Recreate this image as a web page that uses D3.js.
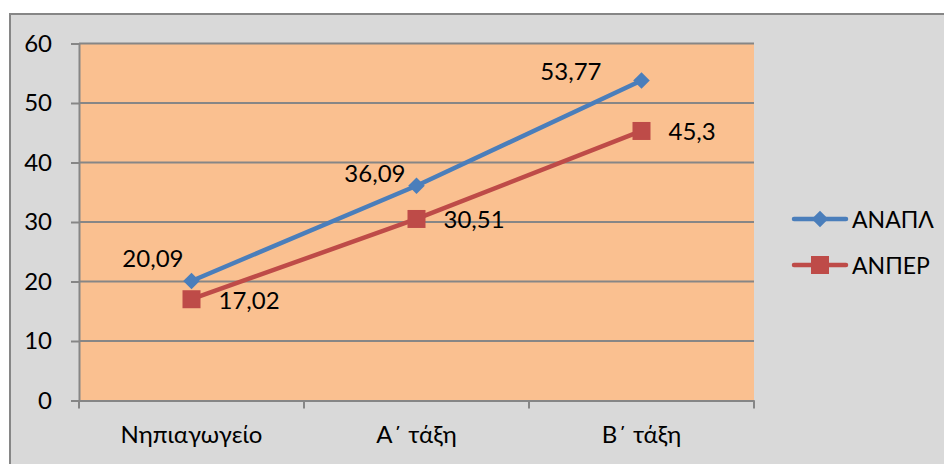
<!DOCTYPE html>
<html>
<head>
<meta charset="utf-8">
<script src="https://cdn.jsdelivr.net/npm/d3@7"></script>
<style>
  html, body { margin: 0; padding: 0; background: #ffffff; }
  svg { display: block; }
  text { font-family: Lato, "Open Sans", sans-serif; fill: #000; }
</style>
</head>
<body>
<svg id="chart" width="944" height="464"></svg>
<script>
// Categories (school grade) and the two series
const categories = ["Νηπιαγωγείο", "Α΄ τάξη", "Β΄ τάξη"];
const seriesNames = ["ΑΝΑΠΛ", "ΑΝΠΕΡ"];
const anaplValues = [20.09, 36.09, 53.77];
const anperValues = [17.02, 30.51, 45.3];
const yTicks = [0, 10, 20, 30, 40, 50, 60];

const colors = { "ΑΝΑΠΛ": "#4a7ebb", "ΑΝΠΕΡ": "#be4b48" };
const FS = "24px";

const svg = d3.select("#chart");
const W = 944, H = 464;
const plot = { left: 79, top: 43.5, right: 754, bottom: 400.5 };

// chart background and frame
svg.append("rect")
  .attr("x", 10).attr("y", 14).attr("width", W - 9).attr("height", H)
  .attr("fill", "#d9d9d9").attr("stroke", "#868686").attr("stroke-width", 2);

const x = d3.scaleBand().domain(categories).range([plot.left, plot.right]).padding(0);
const y = d3.scaleLinear().domain([0, 60]).range([plot.bottom, plot.top]);
const cx = c => x(c) + x.bandwidth() / 2;

// plot area
svg.append("rect")
  .attr("x", plot.left).attr("y", plot.top)
  .attr("width", plot.right - plot.left).attr("height", plot.bottom - plot.top)
  .attr("fill", "#fac090");

// horizontal gridlines
svg.append("g").selectAll("line").data(yTicks.filter(t => t > 0)).join("line")
  .attr("x1", plot.left).attr("x2", plot.right)
  .attr("y1", d => y(d)).attr("y2", d => y(d))
  .attr("stroke", "#868686").attr("stroke-width", 2);

// y axis
const yAxis = svg.append("g")
  .attr("transform", `translate(${plot.left},0)`)
  .call(d3.axisLeft(y).tickValues(yTicks).tickSize(8).tickPadding(19).tickFormat(d3.format("d")));
yAxis.select(".domain").attr("stroke", "#868686").attr("stroke-width", 2);
yAxis.selectAll(".tick line").attr("stroke", "#868686").attr("stroke-width", 2);
yAxis.selectAll(".tick text").style("font-size", FS).attr("fill", "#000");

// x axis with tick marks at category boundaries
const xAxis = svg.append("g")
  .attr("transform", `translate(0,${plot.bottom})`)
  .call(d3.axisBottom(x).tickSize(0).tickPadding(25));
xAxis.select(".domain").attr("stroke", "#868686").attr("stroke-width", 2);
xAxis.selectAll(".tick text").style("font-size", FS).attr("fill", "#000").attr("dy", "0.71em");
const boundaries = categories.map(c => x(c)).concat([x(categories[categories.length - 1]) + x.bandwidth()]);
xAxis.append("g").selectAll("line").data(boundaries).join("line")
  .attr("x1", d => d).attr("x2", d => d).attr("y1", 0).attr("y2", 8)
  .attr("stroke", "#868686").attr("stroke-width", 2);

const series = [
  { name: seriesNames[0], values: anaplValues, marker: "diamond" },
  { name: seriesNames[1], values: anperValues, marker: "square" }
];

const line = d3.line().x(d => cx(d.cat)).y(d => y(d.v));

const diamondPath = d3.symbol().type(d3.symbolDiamond2).size(175)();
const squarePath = d3.symbol().type(d3.symbolSquare).size(324)();

series.forEach(s => {
  const pts = s.values.map((v, i) => ({ cat: categories[i], v }));
  svg.append("path").datum(pts)
    .attr("d", line).attr("fill", "none")
    .attr("stroke", colors[s.name]).attr("stroke-width", 4.5)
    .attr("stroke-linejoin", "round");
  svg.append("g").selectAll("path").data(pts).join("path")
    .attr("d", s.marker === "diamond" ? diamondPath : squarePath)
    .attr("transform", d => `translate(${cx(d.cat)},${y(d.v)})`)
    .attr("fill", colors[s.name]);
});

// data labels
const fmt = v => String(v).replace(".", ",");
const anaplOffsets = [[-8, -23], [-11, -13], [-40, -10]];
svg.append("g").selectAll("text").data(anaplValues).join("text")
  .attr("x", (d, i) => cx(categories[i]) + anaplOffsets[i][0])
  .attr("y", (d, i) => y(d) + anaplOffsets[i][1])
  .attr("text-anchor", "end").attr("dominant-baseline", "central")
  .style("font-size", FS).text(fmt);
svg.append("g").selectAll("text").data(anperValues).join("text")
  .attr("x", (d, i) => cx(categories[i]) + 27)
  .attr("y", d => y(d))
  .attr("text-anchor", "start").attr("dominant-baseline", "central")
  .style("font-size", FS).text(fmt);

// legend
const legend = svg.append("g");
series.forEach((s, i) => {
  const ly = 219 + i * 46;
  legend.append("line").attr("x1", 794).attr("x2", 846).attr("y1", ly).attr("y2", ly)
    .attr("stroke", colors[s.name]).attr("stroke-width", 4.5).attr("stroke-linecap", "round");
  legend.append("path")
    .attr("d", s.marker === "diamond" ? diamondPath : squarePath)
    .attr("transform", `translate(820,${ly})`).attr("fill", colors[s.name]);
  legend.append("text").attr("x", 852).attr("y", ly)
    .attr("dominant-baseline", "central").style("font-size", "23px").text(s.name);
});
</script>
</body>
</html>
